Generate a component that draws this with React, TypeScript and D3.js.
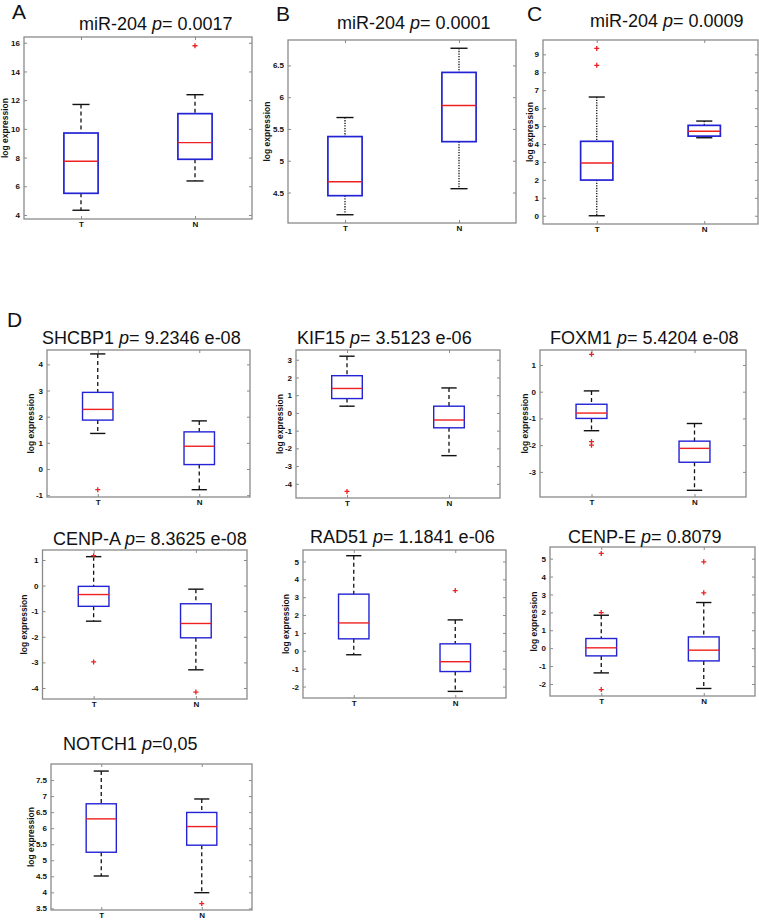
import React, { useEffect, useRef } from "react";
import * as d3 from "d3";

const GROUPS = ["T", "N"];

// box stats per group: [lower whisker, q1, median, q3, upper whisker]
const statsA = [[4.33, 5.51, 7.74, 9.71, 11.7], [6.37, 7.88, 9.04, 11.06, 12.38]];
const outliersA = [[], [15.79]];
const statsB = [[4.15, 4.45, 4.67, 5.38, 5.68], [4.56, 5.3, 5.87, 6.39, 6.77]];
const outliersB = [[], []];
const statsC = [[0, 1.99, 2.94, 4.15, 6.62], [4.35, 4.44, 4.71, 5.04, 5.28]];
const outliersC = [[9.33, 8.39], []];
const statsSHCBP1 = [[1.36, 1.87, 2.28, 2.93, 4.4], [-0.79, 0.17, 0.87, 1.42, 1.84]];
const outliersSHCBP1 = [[-0.79], []];
const statsKIF15 = [[0.38, 0.81, 1.38, 2.1, 3.2], [-2.41, -0.84, -0.4, 0.38, 1.41]];
const outliersKIF15 = [[-4.43], []];
const statsFOXM1 = [[-1.46, -1.0, -0.8, -0.47, 0.03], [-3.69, -2.64, -2.12, -1.85, -1.19]];
const outliersFOXM1 = [[1.4, -1.87, -2.0], []];
const statsCENPA = [[-1.39, -0.81, -0.35, -0.03, 1.13], [-3.29, -2.04, -1.48, -0.71, -0.14]];
const outliersCENPA = [[1.17, -2.98], [-4.16]];
const statsRAD51 = [[-0.22, 0.67, 1.56, 3.17, 5.32], [-2.27, -1.16, -0.61, 0.39, 1.73]];
const outliersRAD51 = [[], [3.37]];
const statsCENPE = [[-1.38, -0.43, 0.02, 0.54, 1.84], [-2.25, -0.71, -0.11, 0.63, 2.55]];
const outliersCENPE = [[5.29, 1.99, -2.31], [4.82, 3.09]];
const statsNOTCH1 = [[4.51, 5.25, 6.29, 6.76, 7.78], [3.99, 5.47, 6.05, 6.49, 6.91]];
const outliersNOTCH1 = [[], [3.65]];

// y axis limits and tick labels
const yLims = [
  [3.72, 16.4], [4.02, 6.9], [-0.46, 9.8],
  [-1.07, 4.55], [-4.8, 3.55], [-3.94, 1.56],
  [-4.43, 1.39], [-2.64, 5.64], [-2.67, 5.65],
  [3.45, 8.0],
];
const yTicks = [
  [4, 6, 8, 10, 12, 14, 16], [4.5, 5, 5.5, 6, 6.5], [0, 1, 2, 3, 4, 5, 6, 7, 8, 9],
  [-1, 0, 1, 2, 3, 4], [-4, -3, -2, -1, 0, 1, 2, 3], [-3, -2, -1, 0, 1],
  [-4, -3, -2, -1, 0, 1], [-2, -1, 0, 1, 2, 3, 4, 5], [-2, -1, 0, 1, 2, 3, 4, 5],
  [3.5, 4, 4.5, 5, 5.5, 6, 6.5, 7, 7.5],
];

const genes = ["miR-204", "miR-204", "miR-204", "SHCBP1", "KIF15", "FOXM1", "CENP-A", "RAD51", "CENP-E", "NOTCH1"];
const pTexts = ["= 0.0017", "= 0.0001", "= 0.0009", "= 9.2346 e-08", "= 3.5123 e-06", "= 5.4204 e-08",
  "= 8.3625 e-08", "= 1.1841 e-06", "= 0.8079", "=0,05"];
const panelLetters = ["A", "B", "C", "D"];

// layout: frame [x0, y0, x1, y1], title [x, baseline], y-label offset
const frames = [
  [24, 37, 252, 219], [288, 40, 516, 223], [543, 40, 758, 224],
  [47, 350, 250, 497], [296, 350, 500, 498], [540, 350, 746, 497],
  [42.5, 550, 247, 699], [303, 550, 506, 698], [550, 547, 755, 696],
  [51, 764, 252, 910],
];
const titlePos = [
  [79, 30], [337, 29], [590, 27],
  [42, 344], [297, 344], [550, 344],
  [53, 545], [310, 543], [568, 543],
  [63, 750],
];
const ylabOffset = [19, 21, 13, 16, 16, 15, 18, 17, 16, 20];
const letterPos = [[12, 18.5], [276, 20.5], [527, 20.5], [7, 327]];

const App = () => {
  const ref = useRef(null);

  useEffect(() => {
    const stats = [statsA, statsB, statsC, statsSHCBP1, statsKIF15, statsFOXM1, statsCENPA, statsRAD51, statsCENPE, statsNOTCH1];
    const outs = [outliersA, outliersB, outliersC, outliersSHCBP1, outliersKIF15, outliersFOXM1, outliersCENPA, outliersRAD51, outliersCENPE, outliersNOTCH1];

    const svg = d3.select(ref.current);
    svg.selectAll("*").remove();
    const font = "'Liberation Sans', Arial, sans-serif";

    stats.forEach((st, p) => {
      const [x0, y0, x1, y1] = frames[p];
      const g = svg.append("g");
      const x = d3.scaleLinear().domain([0.5, 2.5]).range([x0, x1]);
      const y = d3.scaleLinear().domain(yLims[p]).range([y1, y0]);
      const top = p < 3;

      // axes (ticks inside, MATLAB style)
      const styleAxis = (a) => {
        a.select(".domain").remove();
        a.selectAll("line").attr("stroke", "#8a8a8a");
        a.selectAll("text").attr("font-family", font).attr("font-size", 8).attr("font-weight", "bold").attr("fill", "#111");
      };
      g.append("g").attr("transform", `translate(${x0},0)`)
        .call(d3.axisLeft(y).tickValues(yTicks[p]).tickSize(-3).tickPadding(4).tickFormat(d => String(d)))
        .call(styleAxis);
      g.append("g").attr("transform", `translate(${x1},0)`)
        .call(d3.axisRight(y).tickValues(yTicks[p]).tickSize(-3).tickFormat(() => ""))
        .call(styleAxis);
      g.append("g").attr("transform", `translate(0,${y1})`)
        .call(d3.axisBottom(x).tickValues([1, 2]).tickSize(-3).tickPadding(2.5).tickFormat(d => GROUPS[d - 1]))
        .call(styleAxis);
      g.append("g").attr("transform", `translate(0,${y0})`)
        .call(d3.axisTop(x).tickValues([1, 2]).tickSize(-3).tickFormat(() => ""))
        .call(styleAxis);

      g.append("rect")
        .attr("x", x0).attr("y", y0).attr("width", x1 - x0).attr("height", y1 - y0)
        .attr("fill", "none").attr("stroke", "#8a8a8a").attr("stroke-width", 1.3);

      // y label
      g.append("text")
        .attr("transform", `translate(${x0 - ylabOffset[p]},${(y0 + y1) / 2}) rotate(-90)`)
        .attr("text-anchor", "middle").attr("dy", "0.35em")
        .attr("font-family", font).attr("font-size", 8.5).attr("font-weight", "bold").attr("fill", "#111")
        .text("log expression");

      // title
      const t = g.append("text")
        .attr("x", titlePos[p][0]).attr("y", titlePos[p][1])
        .attr("font-family", font).attr("font-size", 18).attr("fill", "#111");
      t.append("tspan").text(genes[p] + " ");
      t.append("tspan").attr("font-style", "italic").text("p");
      t.append("tspan").text(pTexts[p]);

      const boxW = (x1 - x0) * 0.15;
      const capW = boxW * 0.5;
      const dash = p === 1 || p === 2 ? "1.3,1.3" : "4,3";

      st.forEach((s, i) => {
        const cx = x(i + 1);
        const [lw, q1, med, q3, uw] = s;
        g.append("line").attr("x1", cx).attr("x2", cx).attr("y1", y(uw)).attr("y2", y(q3))
          .attr("stroke", "#111").attr("stroke-width", 1.3).attr("stroke-dasharray", dash);
        g.append("line").attr("x1", cx).attr("x2", cx).attr("y1", y(q1)).attr("y2", y(lw))
          .attr("stroke", "#111").attr("stroke-width", 1.3).attr("stroke-dasharray", dash);
        [lw, uw].forEach(v => {
          g.append("line").attr("x1", cx - capW / 2).attr("x2", cx + capW / 2).attr("y1", y(v)).attr("y2", y(v))
            .attr("stroke", "#111").attr("stroke-width", 1.4);
        });
        g.append("rect")
          .attr("x", cx - boxW / 2).attr("y", y(q3)).attr("width", boxW).attr("height", y(q1) - y(q3))
          .attr("fill", "none").attr("stroke", "#2323d6").attr("stroke-width", top ? 1.7 : 1.4);
        g.append("line").attr("x1", cx - boxW / 2).attr("x2", cx + boxW / 2).attr("y1", y(med)).attr("y2", y(med))
          .attr("stroke", "#ee2020").attr("stroke-width", 1.4);
        outs[p][i].forEach(v => {
          const oy = y(v);
          g.append("path")
            .attr("d", `M${cx - 2.5},${oy}H${cx + 2.5}M${cx},${oy - 2.5}V${oy + 2.5}`)
            .attr("stroke", "#ee2020").attr("stroke-width", 1.3);
        });
      });
    });

    panelLetters.forEach((l, i) => {
      svg.append("text")
        .attr("x", letterPos[i][0]).attr("y", letterPos[i][1])
        .attr("font-family", font).attr("font-size", 21).attr("fill", "#111")
        .text(l);
    });
  }, []);

  return (
    <svg ref={ref} width={759} height={920}
      style={{ position: "absolute", left: 0, top: 0, background: "#fff" }}></svg>
  );
};

export default App;
